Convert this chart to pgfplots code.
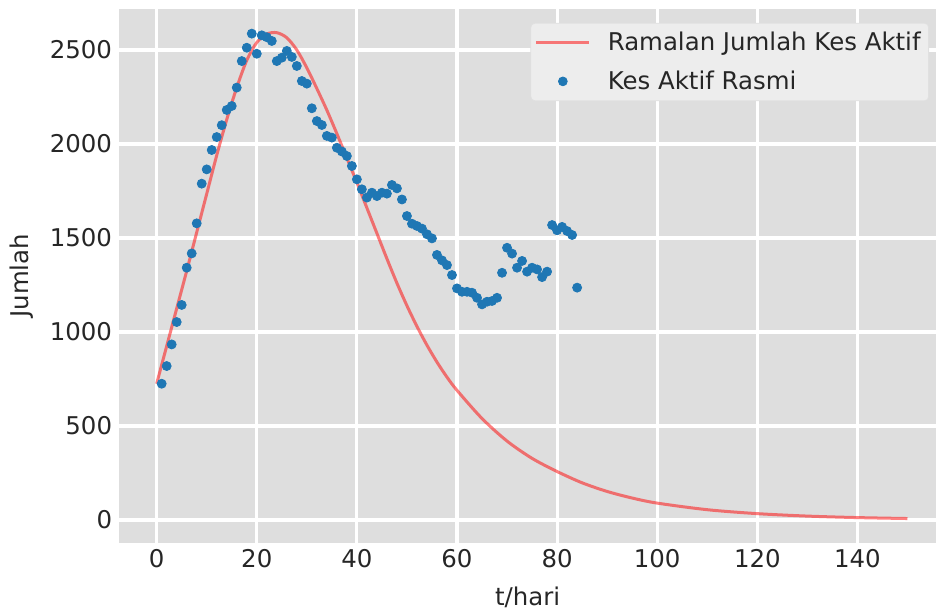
\documentclass[border=0pt]{standalone}
\usepackage{fontspec}
\setmainfont{DejaVu Sans}
\usepackage{pgfplots}
\pgfplotsset{compat=1.18}

\definecolor{bgray}{RGB}{222,222,222}
\definecolor{tabblue}{RGB}{31,119,180}
\definecolor{txt}{RGB}{38,38,38}

\begin{document}
\begin{tikzpicture}[font=\fontsize{12.2}{14.6}\selectfont]
\begin{axis}[
  name=ax,
  scale only axis,
  width=408pt, height=266.7pt,
  xmin=-7.5, xmax=155.7,
  ymin=-121, ymax=2719,
  xtick={0,20,...,140},
  ytick={0,500,...,2500},
  /pgf/number format/assume math mode=true,
  scaled y ticks=false,
  yticklabel style={/pgf/number format/1000 sep={}, text=txt},
  xticklabel style={text=txt},
  axis background/.style={fill=bgray},
  axis line style={draw=none},
  major tick length=0pt,
  grid=major,
  major grid style={white, line width=1.6pt},
  xlabel={t/hari}, ylabel={Jumlah},
  xlabel style={at={(axis description cs:0.5,-0.1027)}, anchor=center, text=txt},
  ylabel style={at={(axis description cs:-0.1189,0.5)}, anchor=center, text=txt},
  legend style={at={(1,1)}, anchor=north east, xshift=-3.5pt, yshift=-7pt,
    fill=white!93!black, draw=white!88!black, rounded corners=2pt,
    inner xsep=2pt, inner ysep=2.3pt, row sep=4.6pt,
    text=txt},
  legend cell align=left,
]
% legend in matplotlib order
\addlegendimage{legend image code/.code={\draw[red, draw opacity=0.5, line width=1.5pt] (0pt,0pt) -- (26.5pt,0pt); \path (33.5pt,0pt);}}
\addlegendentry{Ramalan Jumlah Kes Aktif}
\addlegendimage{legend image code/.code={\fill[tabblue] (13.25pt,0pt) circle (2.2pt); \path (0pt,0pt) (33.5pt,0pt);}}
\addlegendentry{Kes Aktif Rasmi}

% official active cases
\addplot[forget plot, only marks, mark=*, mark size=2.25pt, color=tabblue] coordinates {
(1,725) (2,819) (3,934) (4,1053) (5,1144) (6,1342) (7,1418) (8,1578)
(9,1789) (10,1865) (11,1968) (12,2037) (13,2100) (14,2181) (15,2202)
(16,2300) (17,2441) (18,2512) (19,2587) (20,2480) (21,2578) (22,2568)
(23,2548) (24,2441) (25,2459) (26,2495) (27,2463) (28,2415) (29,2335)
(30,2321) (31,2190) (32,2122) (33,2101) (34,2043) (35,2034) (36,1980)
(37,1960) (38,1936) (39,1883) (40,1812) (41,1759) (42,1715) (43,1741)
(44,1723) (45,1741) (46,1736) (47,1782) (48,1764) (49,1705) (50,1617)
(51,1576) (52,1564) (53,1550) (54,1520) (55,1498) (56,1410) (57,1381)
(58,1356) (59,1303) (60,1232) (61,1214) (62,1214) (63,1209) (64,1182)
(65,1147) (66,1161) (67,1165) (68,1182) (69,1315) (70,1448) (71,1417)
(72,1342) (73,1378) (74,1321) (75,1342) (76,1333) (77,1292) (78,1321)
(79,1569) (80,1541) (81,1559) (82,1537) (83,1516) (84,1236)
};

% forecast
\addplot[forget plot, smooth, red, draw opacity=0.5, line width=1.5pt] coordinates {
(0,725) (2,925) (4,1125) (6,1325) (8,1530) (10,1735) (12,1940) (14,2130)
(16,2300) (18,2445) (20,2540) (22,2585) (24,2592) (26,2565) (28,2500)
(30,2405) (32,2295) (34,2180) (36,2055) (38,1925) (40,1795) (42,1660)
(44,1525) (46,1390) (48,1260) (50,1140) (52,1030) (54,930) (56,840)
(58,760) (60,690) (65,540) (70,420) (75,328) (80,258) (85,198) (90,152)
(95,117) (100,90) (110,55) (120,34) (130,21) (140,13) (150,8)
};
\end{axis}
\pgfresetboundingbox
\path[use as bounding box] ([xshift=-59.5pt, yshift=-34.4pt]ax.south west) rectangle ([yshift=4.4pt]ax.north east);
\end{tikzpicture}
\end{document}
